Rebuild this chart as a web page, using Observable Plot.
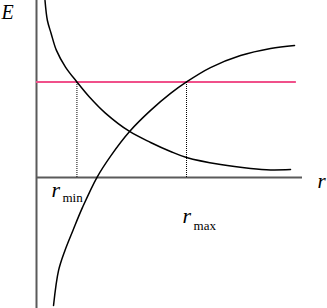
<!DOCTYPE html>
<html>
<head>
<meta charset="utf-8">
<script src="https://cdn.jsdelivr.net/npm/d3@7"></script>
<script src="https://cdn.jsdelivr.net/npm/@observablehq/plot@0.6"></script>
<style>
  html, body { margin: 0; padding: 0; background: #fff; }
  svg { display: block; }
</style>
</head>
<body>
<div id="chart"></div>
<script>
// Decreasing curve
const rFalling = [0.32, 0.41, 0.55, 0.75, 1.09, 1.52, 1.99, 2.59, 3.50, 4.29, 5.04, 5.64, 6.92, 8.05, 8.80, 9.55];
const eFalling = [10.0, 8.87, 8.14, 7.18, 6.24, 5.40, 4.55, 3.64, 2.60, 1.98, 1.47, 1.13, 0.73, 0.51, 0.43, 0.45];
// Increasing curve
const rRising = [0.64, 0.83, 1.07, 1.37, 1.73, 2.27, 2.80, 3.50, 4.29, 5.04, 5.64, 6.54, 7.67, 8.80, 9.70];
const eRising = [-7.23, -5.25, -4.12, -2.99, -1.69, 0, 1.24, 2.60, 3.79, 4.75, 5.40, 6.21, 6.89, 7.29, 7.46];
// Energy level and turning points
const energyLevel = 5.40;
const energyEnd = 9.77;
const rMin = 1.52;
const rMax = 5.64;
const xAxisEnd = 10;

const falling = rFalling.map((r, i) => ({r, E: eFalling[i]}));
const rising = rRising.map((r, i) => ({r, E: eRising[i]}));

const serif = "'Liberation Serif', 'DejaVu Serif', serif";

const chart = Plot.plot({
  width: 327,
  height: 308,
  marginTop: 0, marginRight: 0, marginBottom: 0, marginLeft: 0,
  x: {domain: [0, 10], range: [36, 302], axis: null},
  y: {domain: [-7.4, 10], range: [308, 0], axis: null},
  style: {fontFamily: serif, background: "white"},
  marks: [
    // axes
    Plot.ruleX([0], {stroke: "#5a5a5a", strokeWidth: 2}),
    Plot.ruleY([0], {x1: 0, x2: xAxisEnd, stroke: "#5a5a5a", strokeWidth: 1.8}),
    // energy level
    Plot.ruleY([energyLevel], {x1: 0, x2: energyEnd, stroke: "#f0508a", strokeWidth: 2}),
    // turning points
    Plot.ruleX([rMin, rMax], {y1: 0, y2: energyLevel, stroke: "black", strokeWidth: 1, strokeDasharray: "1,1"}),
    // curves
    Plot.line(falling, {x: "r", y: "E", curve: "catmull-rom", stroke: "black", strokeWidth: 1.5}),
    Plot.line(rising, {x: "r", y: "E", curve: "catmull-rom", stroke: "black", strokeWidth: 1.5}),
    // axis labels
    Plot.text(["E"], {x: 0, y: 10, dx: -35, dy: 18, textAnchor: "start", lineAnchor: "bottom", fontSize: 20, fontStyle: "italic", fill: "black"}),
    Plot.text(["r"], {x: xAxisEnd, y: 0, dx: 15, dy: 10, textAnchor: "start", lineAnchor: "bottom", fontSize: 21, fontStyle: "italic", fill: "black"}),
    // r_min label
    Plot.text(["r"], {x: rMin, y: 0, dx: -25.5, dy: 19, textAnchor: "start", lineAnchor: "bottom", fontSize: 22, fontStyle: "italic", fill: "black"}),
    Plot.text(["min"], {x: rMin, y: 0, dx: -14.5, dy: 24, textAnchor: "start", lineAnchor: "bottom", fontSize: 13, fill: "black"}),
    // r_max label
    Plot.text(["r"], {x: rMax, y: 0, dx: -4, dy: 45, textAnchor: "start", lineAnchor: "bottom", fontSize: 22, fontStyle: "italic", fill: "black"}),
    Plot.text(["max"], {x: rMax, y: 0, dx: 7, dy: 52, textAnchor: "start", lineAnchor: "bottom", fontSize: 13, fill: "black"})
  ]
});
document.getElementById("chart").appendChild(chart);
</script>
</body>
</html>
